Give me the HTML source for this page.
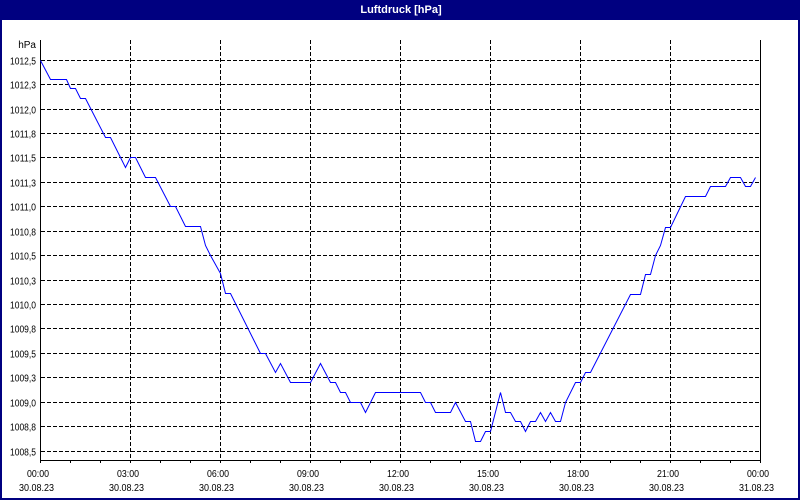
<!DOCTYPE html>
<html><head><meta charset="utf-8"><style>
html,body{margin:0;padding:0;background:#fff;}
svg{display:block;}
text{font-family:"Liberation Sans",sans-serif;}
</style></head><body>
<svg width="800" height="500" viewBox="0 0 800 500" xmlns="http://www.w3.org/2000/svg">
<rect x="0" y="0" width="800" height="500" fill="#fff"/>
<rect x="0" y="0" width="800" height="20" fill="#000080"/>
<rect x="0" y="0" width="2" height="500" fill="#000080"/>
<rect x="798" y="0" width="2" height="500" fill="#000080"/>
<rect x="0" y="498" width="800" height="2" fill="#000080"/>
<text x="401" y="13" text-anchor="middle" font-size="11" font-weight="bold" fill="#fff">Luftdruck [hPa]</text>

<g stroke="#000" stroke-width="1" stroke-dasharray="4,2" shape-rendering="crispEdges" fill="none">
<path d="M41 60.5H759M41 84.5H759M41 109.5H759M41 133.5H759M41 157.5H759M41 182.5H759M41 206.5H759M41 231.5H759M41 255.5H759M41 280.5H759M41 304.5H759M41 328.5H759M41 353.5H759M41 377.5H759M41 402.5H759M41 426.5H759M41 451.5H759"/>
<path d="M130.5 40V460M220.5 40V460M310.5 40V460M400.5 40V460M490.5 40V460M580.5 40V460M670.5 40V460"/>
</g>

<g stroke="#000" stroke-width="1" shape-rendering="crispEdges" fill="none">
<path d="M40.5 40V463M40 460.5H761M760.5 40V463"/>
<path d="M70.5 460V463M100.5 460V463M130.5 460V463M160.5 460V463M190.5 460V463M220.5 460V463M250.5 460V463M280.5 460V463M310.5 460V463M340.5 460V463M370.5 460V463M400.5 460V463M430.5 460V463M460.5 460V463M490.5 460V463M520.5 460V463M550.5 460V463M580.5 460V463M610.5 460V463M640.5 460V463M670.5 460V463M700.5 460V463M730.5 460V463"/>
</g>

<g font-size="10" fill="#000" text-anchor="end">
<text x="36" y="48">hPa</text>
<text x="36" y="64.5" textLength="26" lengthAdjust="spacingAndGlyphs">1012,5</text>
<text x="36" y="88.5" textLength="26" lengthAdjust="spacingAndGlyphs">1012,3</text>
<text x="36" y="113.5" textLength="26" lengthAdjust="spacingAndGlyphs">1012,0</text>
<text x="36" y="137.5" textLength="26" lengthAdjust="spacingAndGlyphs">1011,8</text>
<text x="36" y="161.5" textLength="26" lengthAdjust="spacingAndGlyphs">1011,5</text>
<text x="36" y="186.5" textLength="26" lengthAdjust="spacingAndGlyphs">1011,3</text>
<text x="36" y="210.5" textLength="26" lengthAdjust="spacingAndGlyphs">1011,0</text>
<text x="36" y="235.5" textLength="26" lengthAdjust="spacingAndGlyphs">1010,8</text>
<text x="36" y="259.5" textLength="26" lengthAdjust="spacingAndGlyphs">1010,5</text>
<text x="36" y="284.5" textLength="26" lengthAdjust="spacingAndGlyphs">1010,3</text>
<text x="36" y="308.5" textLength="26" lengthAdjust="spacingAndGlyphs">1010,0</text>
<text x="36" y="332.5" textLength="26" lengthAdjust="spacingAndGlyphs">1009,8</text>
<text x="36" y="357.5" textLength="26" lengthAdjust="spacingAndGlyphs">1009,5</text>
<text x="36" y="381.5" textLength="26" lengthAdjust="spacingAndGlyphs">1009,3</text>
<text x="36" y="406.5" textLength="26" lengthAdjust="spacingAndGlyphs">1009,0</text>
<text x="36" y="430.5" textLength="26" lengthAdjust="spacingAndGlyphs">1008,8</text>
<text x="36" y="455.5" textLength="26" lengthAdjust="spacingAndGlyphs">1008,5</text>
</g>

<g font-size="10" fill="#000">
<text x="27" y="477" textLength="22" lengthAdjust="spacingAndGlyphs">00:00</text>
<text x="117" y="477" textLength="22" lengthAdjust="spacingAndGlyphs">03:00</text>
<text x="207" y="477" textLength="22" lengthAdjust="spacingAndGlyphs">06:00</text>
<text x="297" y="477" textLength="22" lengthAdjust="spacingAndGlyphs">09:00</text>
<text x="387" y="477" textLength="22" lengthAdjust="spacingAndGlyphs">12:00</text>
<text x="477" y="477" textLength="22" lengthAdjust="spacingAndGlyphs">15:00</text>
<text x="567" y="477" textLength="22" lengthAdjust="spacingAndGlyphs">18:00</text>
<text x="657" y="477" textLength="22" lengthAdjust="spacingAndGlyphs">21:00</text>
<text x="747" y="477" textLength="22" lengthAdjust="spacingAndGlyphs">00:00</text>
<text x="19" y="491" textLength="35" lengthAdjust="spacingAndGlyphs">30.08.23</text>
<text x="109" y="491" textLength="35" lengthAdjust="spacingAndGlyphs">30.08.23</text>
<text x="199" y="491" textLength="35" lengthAdjust="spacingAndGlyphs">30.08.23</text>
<text x="289" y="491" textLength="35" lengthAdjust="spacingAndGlyphs">30.08.23</text>
<text x="379" y="491" textLength="35" lengthAdjust="spacingAndGlyphs">30.08.23</text>
<text x="469" y="491" textLength="35" lengthAdjust="spacingAndGlyphs">30.08.23</text>
<text x="559" y="491" textLength="35" lengthAdjust="spacingAndGlyphs">30.08.23</text>
<text x="649" y="491" textLength="35" lengthAdjust="spacingAndGlyphs">30.08.23</text>
<text x="739" y="491" textLength="35" lengthAdjust="spacingAndGlyphs">31.08.23</text>
</g>

<polyline fill="none" stroke="#0000ff" stroke-width="1" transform="translate(0.5,0.5)" points="40,60 50,79 66,79 70,88 75,88 80,98 85,98 105,137 110,137 125,167 130,157 135,157 145,177 155,177 170,206 175,206 185,226 200,226 205,245 210,255 220,273 225,293 230,293 260,353 265,353 275,372 280,363 290,382 310,382 320,363 330,382 335,382 340,392 345,392 350,402 360,402 365,412 375,392 420,392 425,402 430,402 435,412 450,412 455,402 465,421 470,421 475,441 480,441 485,431 490,431 500,392 505,412 510,412 515,421 520,421 525,431 530,421 535,421 540,412 545,421 550,412 555,421 560,421 565,402 575,382 580,382 585,372 590,372 630,294 640,294 645,274 650,274 655,255 660,245 665,227 670,227 685,196 705,196 710,186 725,186 730,177 740,177 745,186 750,186 755,177"/>
</svg>
</body></html>
